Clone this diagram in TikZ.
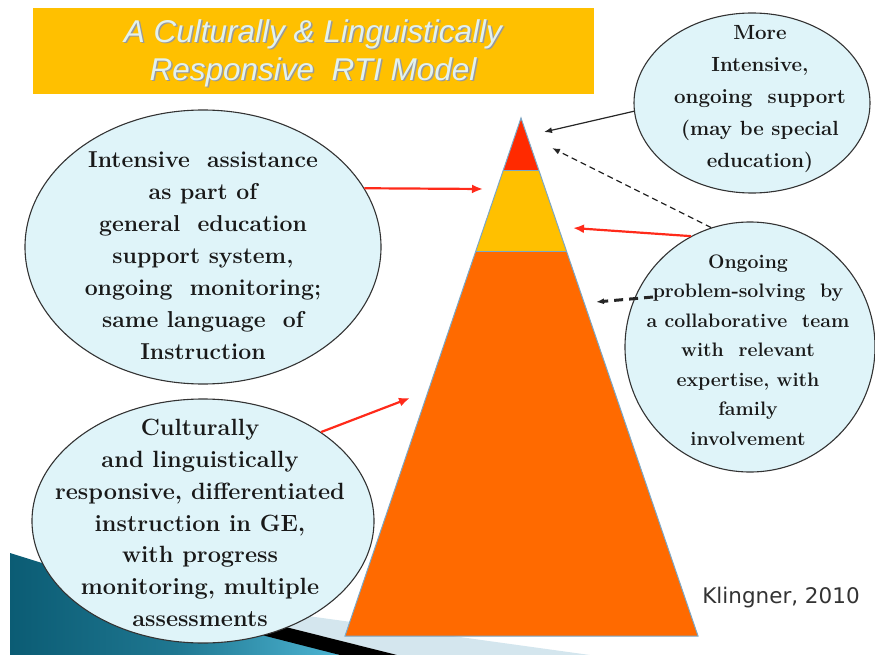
\documentclass[tikz,border=0pt]{standalone}
\usepackage{fontspec}
\newfontfamily\titlefont{Liberation Sans}
\newfontfamily\notefont{DejaVu Sans}
\usetikzlibrary{calc,shapes.geometric,arrows.meta}

\definecolor{tierred}{HTML}{FF2A00}
\definecolor{tieryellow}{HTML}{FFC000}
\definecolor{tierorange}{HTML}{FF6A00}
\definecolor{edgeblue}{HTML}{7BA7C6}
\definecolor{bubblefill}{HTML}{DFF4F9}
\definecolor{arrowred}{HTML}{FF2A1A}
\definecolor{titletext}{HTML}{E2F1EE}
\definecolor{swooshdark}{HTML}{0B5C74}
\definecolor{swooshlight}{HTML}{4DB5D3}
\definecolor{stripe}{HTML}{D4E6EE}

\newcommand{\heavy}{\bfseries\addfontfeature{FakeBold=1.2}}

\begin{document}
\begin{tikzpicture}[x=1pt, y=-1pt,
  bubble/.style={ellipse, draw=black!80, line width=1.1pt, fill=bubblefill, inner sep=0pt},
  bubbletext/.style={align=center, inner sep=0pt, text=black!90},
  redarrow/.style={draw=arrowred, line width=2.2pt, -{Latex[length=11pt,width=9pt]}},
  blackarrow/.style={draw=black!85, line width=1.2pt, -{Latex[length=8pt,width=6pt]}}]
  \useasboundingbox (0,0) rectangle (875,655);

  % swoosh in the lower left corner
  \shade[left color=swooshdark, right color=swooshlight, middle color=swooshdark!70!swooshlight]
    (10,553) -- (250,628) -- (340,655) -- (10,655) -- cycle;
  \fill[stripe] (250,608) -- (590,655) -- (397,655) -- (250,618) -- cycle;
  \fill[black] (250,618) -- (397,655) -- (340,655) -- (250,632) -- cycle;

  % title bar
  \fill[tieryellow] (33,8) rectangle (594,94);
  \node[align=center, text=black!40, font=\titlefont\itshape\fontsize{31.5}{38}\selectfont]
    (titleshadow) at (314.5,54.5) {A Culturally \& Linguistically\\Responsive\ \ RTI Model};
  \node[align=center, text=titletext, font=\titlefont\itshape\fontsize{31.5}{38}\selectfont]
    (title) at (313,53) {A Culturally \& Linguistically\\Responsive\ \ RTI Model};

  % pyramid, three tiers
  \coordinate (apex) at (521,118);
  \coordinate (baseL) at (345,636);
  \coordinate (baseR) at (698,636);
  \coordinate (redL) at ($(apex)!0.1004!(baseL)$);
  \coordinate (redR) at ($(apex)!0.1004!(baseR)$);
  \coordinate (yelL) at ($(apex)!0.2568!(baseL)$);
  \coordinate (yelR) at ($(apex)!0.2568!(baseR)$);

  \fill[tierorange] (yelL) -- (yelR) -- (baseR) -- (baseL) -- cycle;
  \fill[tieryellow] (redL) -- (redR) -- (yelR) -- (yelL) -- cycle;
  \fill[tierred] (apex) -- (redR) -- (redL) -- cycle;
  \draw[edgeblue, line width=1pt] (apex) -- (baseR) -- (baseL) -- cycle;
  \draw[edgeblue, line width=1pt] (redL) -- (redR) (yelL) -- (yelR);

  % bubbles
  \node[bubble, minimum width=236pt, minimum height=180pt] (top) at (752,103) {};
  \node[bubble, minimum width=356pt, minimum height=274pt] (assist) at (203,247) {};
  \node[bubble, minimum width=342pt, minimum height=244pt] (core) at (203,521) {};
  \node[bubble, minimum width=250pt, minimum height=250pt] (team) at (750,347) {};

  \node[bubbletext, font=\fontsize{20.5}{32}\selectfont\heavy] (toptext) at (760,99)
    {More\\Intensive,\\ongoing\ \ support\\(may be special\\education)};
  \node[bubbletext, font=\fontsize{23}{32}\selectfont\heavy] (assisttext) at (203,256)
    {Intensive\ \ assistance\\as part of\\general\ \ education\\support system,\\ongoing\ \ monitoring;\\same language\ \ of\\Instruction};
  \node[bubbletext, font=\fontsize{23.5}{31.8}\selectfont\heavy] (coretext) at (200,523)
    {Culturally\\and linguistically\\responsive, differentiated\\instruction in GE,\\with progress\\monitoring, multiple\\assessments};
  \node[bubbletext, font=\fontsize{19.5}{29.5}\selectfont\heavy] (teamtext) at (748,350)
    {Ongoing\\problem-solving\ \ by\\a collaborative\ \ team\\with\ \ relevant\\expertise, with\\family\\involvement};

  \node[text=black!80, font=\notefont\fontsize{21.5}{24}\selectfont] (cite) at (781,598) {Klingner, 2010};

  % connectors
  \coordinate (tipTop) at (544,132);
  \coordinate (tipDash) at (552,148);
  \coordinate (tipYellow) at (573,228);
  \coordinate (tipSolve) at (596,302);
  \coordinate (tailSolve) at (653,297);
  \coordinate (tipAssist) at (483,189);
  \coordinate (tipCore) at (410,398);

  \draw[blackarrow] (top.184) -- (tipTop);
  \draw[blackarrow, dash pattern=on 6pt off 4pt] (team.108) -- (tipDash);
  \draw[redarrow] (team.118) -- (tipYellow);
  \draw[blackarrow, line width=3pt, dash pattern=on 9pt off 6pt] (tailSolve) -- (tipSolve);
  \draw[redarrow] (assist.20) -- (tipAssist);
  \draw[redarrow] (core.37) -- (tipCore);
\end{tikzpicture}
\end{document}
